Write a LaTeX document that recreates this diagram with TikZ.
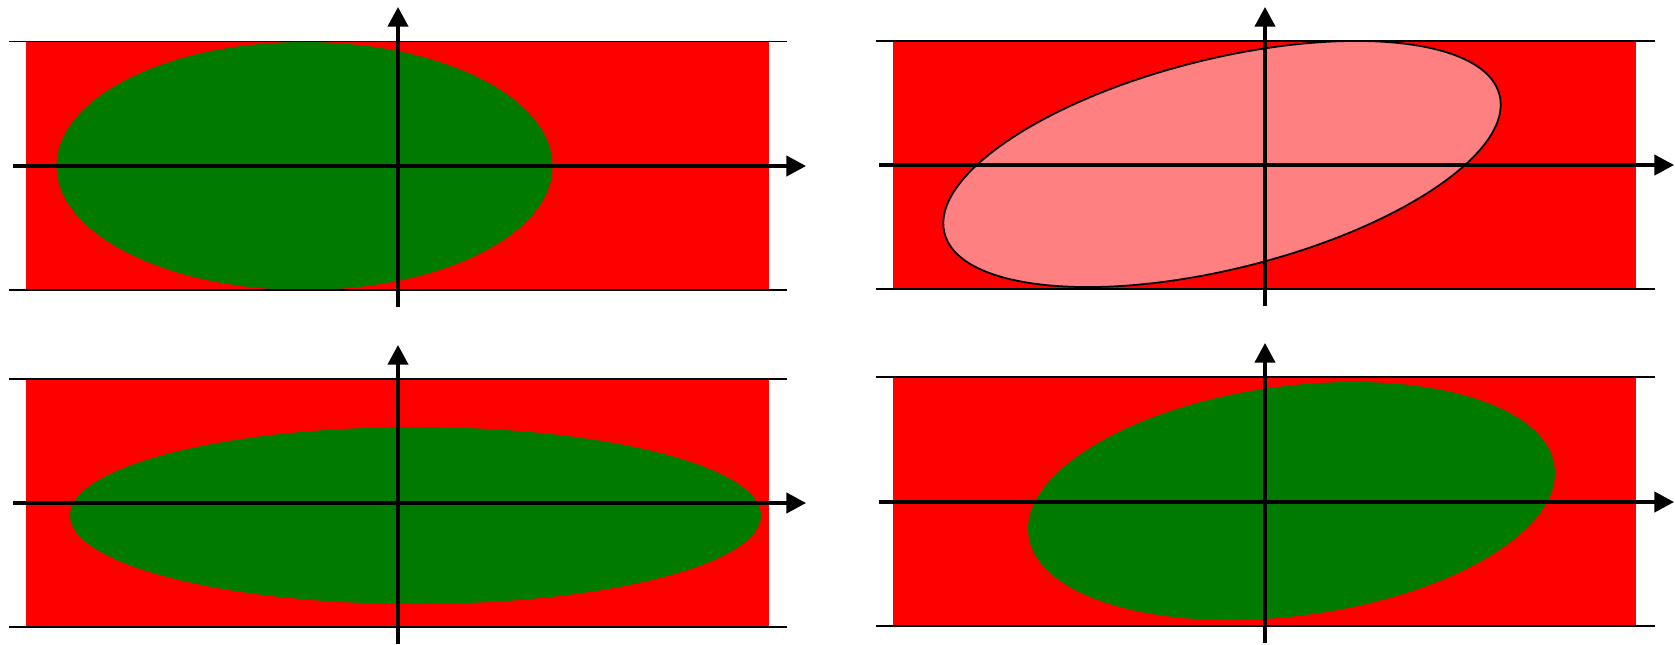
\documentclass[tikz,border=0pt]{standalone}
\usetikzlibrary{arrows.meta}
\definecolor{bandred}{RGB}{255,0,0}
\definecolor{blobgreen}{RGB}{0,123,0}
\definecolor{blobpink}{RGB}{255,128,128}
\begin{document}
\begin{tikzpicture}[x=0.01cm,y=-0.01cm,
  band/.style={fill=bandred,draw=none},
  edgeline/.style={draw=black,line width=0.45pt},
  axis/.style={draw=black,line width=0.9pt,-{Triangle[length=5.6pt,width=5.8pt]}},
  greenblob/.style={fill=blobgreen,draw=none},
  pinkblob/.style={fill=blobpink,draw=black,line width=0.5pt}]
\useasboundingbox (0,0) rectangle (1675,644);
% ---------- top left ----------
\fill[band] (26,42) rectangle (769,290);
\fill[greenblob] (304.5,166) ellipse [x radius=248, y radius=124];
\coordinate (tlA) at (9,41.5);  \coordinate (tlB) at (787,41.5);
\coordinate (tlC) at (9,290);   \coordinate (tlD) at (787,290);
\draw[edgeline] (tlA) -- (tlB);
\draw[edgeline] (tlC) -- (tlD);
\coordinate (tlX0) at (13,166); \coordinate (tlX1) at (806,166);
\coordinate (tlY0) at (398,307); \coordinate (tlY1) at (398,7);
\draw[axis] (tlX0) -- (tlX1);
\draw[axis] (tlY0) -- (tlY1);
% ---------- top right ----------
\fill[band] (893,41) rectangle (1636,289);
\draw[pinkblob] (1222,164) ellipse [x radius=286, y radius=105, rotate=13.95];
\coordinate (trA) at (876,41);  \coordinate (trB) at (1655,41);
\coordinate (trC) at (876,289); \coordinate (trD) at (1655,289);
\draw[edgeline] (trA) -- (trB);
\draw[edgeline] (trC) -- (trD);
\coordinate (trX0) at (879,165); \coordinate (trX1) at (1674,165);
\coordinate (trY0) at (1265,306); \coordinate (trY1) at (1265,7);
\draw[axis] (trX0) -- (trX1);
\draw[axis] (trY0) -- (trY1);
% ---------- bottom left ----------
\fill[band] (26,379) rectangle (769,627);
\fill[greenblob] (415.5,515.5) ellipse [x radius=345.5, y radius=88.5];
\coordinate (blA) at (9,379);  \coordinate (blB) at (787,379);
\coordinate (blC) at (9,627);  \coordinate (blD) at (787,627);
\draw[edgeline] (blA) -- (blB);
\draw[edgeline] (blC) -- (blD);
\coordinate (blX0) at (13,503); \coordinate (blX1) at (806,503);
\coordinate (blY0) at (398,644); \coordinate (blY1) at (398,345);
\draw[axis] (blX0) -- (blX1);
\draw[axis] (blY0) -- (blY1);
% ---------- bottom right ----------
\fill[band] (893,377) rectangle (1636,626);
\fill[greenblob] (1291.5,501) ellipse [x radius=265.3, y radius=114.9, rotate=7.47];
\coordinate (brA) at (876,377);  \coordinate (brB) at (1655,377);
\coordinate (brC) at (876,626);  \coordinate (brD) at (1655,626);
\draw[edgeline] (brA) -- (brB);
\draw[edgeline] (brC) -- (brD);
\coordinate (brX0) at (879,502); \coordinate (brX1) at (1674,502);
\coordinate (brY0) at (1265,643); \coordinate (brY1) at (1265,343);
\draw[axis] (brX0) -- (brX1);
\draw[axis] (brY0) -- (brY1);
\end{tikzpicture}
\end{document}
